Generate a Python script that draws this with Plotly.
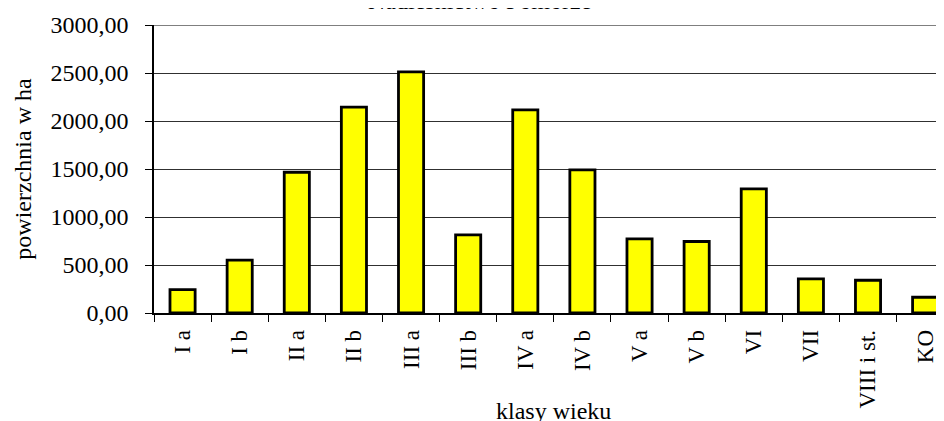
import plotly.graph_objects as go

categories = ["I a", "I b", "II a", "II b", "III a", "III b", "IV a", "IV b",
              "V a", "V b", "VI", "VII", "VIII i st.", "KO"]
values = [244, 550, 1466, 2144, 2512, 814, 2116, 1490, 772, 745, 1294, 355, 341, 164]
y_ticks = [0, 500, 1000, 1500, 2000, 2500, 3000]

title_text = "Nadleśnictwo Pomorze"
x_title = "klasy wieku"
y_title = "powierzchnia w ha"

FONT = "Liberation Serif"
# the page body adds an 8px offset, so the figure is 8px smaller on each axis
W, H = 936, 413
ML, MT, MB = 146, 17, 108
plot_h = H - MT - MB
plot_bottom = H - MB

fig = go.Figure()
fig.add_trace(go.Bar(
    x=categories, y=values,
    width=0.44,
    marker=dict(color="#FFFF00", line=dict(color="#000000", width=2.8)),
    hoverinfo="x+y",
))

fig.update_layout(
    width=W, height=H,
    margin=dict(l=ML, r=0, t=MT, b=MB, pad=0),
    paper_bgcolor="white", plot_bgcolor="white",
    separators=", ",
    showlegend=False,
    font=dict(family=FONT, size=24, color="#000000"),
    bargap=0.56,
)

fig.update_xaxes(
    type="category",
    range=[-0.5, 13.33],
    showgrid=False,
    showline=True, linecolor="#000000", linewidth=1.5,
    ticks="outside", ticklen=7, tickcolor="#000000", tickwidth=1,
    tickson="boundaries",
    tickangle=-90,
    tickfont=dict(family=FONT, size=23),
    ticklabelstandoff=6,
    automargin=False,
)

fig.update_yaxes(
    range=[0, 3000],
    tickvals=y_ticks,
    tickformat=".2f",
    showgrid=True, gridcolor="#303030", gridwidth=1,
    showline=True, linecolor="#000000", linewidth=1.5,
    ticks="outside", ticklen=7, tickcolor="#000000", tickwidth=1,
    tickfont=dict(family=FONT, size=24),
    ticklabelstandoff=12,
    zeroline=False,
    title=dict(text=y_title, font=dict(family=FONT, size=24), standoff=12),
    automargin=False,
)

# top border line of the plot area at the axis maximum
fig.add_shape(
    type="line", xref="paper", yref="y",
    x0=0, x1=1, y0=y_ticks[-1], y1=y_ticks[-1],
    line=dict(color="#7f7f7f", width=2),
)

# x-axis title (placed under the plot centre, between tick labels)
fig.add_annotation(
    text=x_title, xref="x", yref="paper",
    x=6.5, y=(plot_bottom - 388) / plot_h, yanchor="top", xanchor="center",
    showarrow=False, font=dict(family=FONT, size=24),
)

# chart title, mostly cut off at the top edge
fig.add_annotation(
    text=title_text, xref="paper", yref="paper",
    x=(471 - ML) / (W - ML), y=(plot_bottom - 8) / plot_h, yanchor="bottom", xanchor="center",
    showarrow=False, font=dict(family=FONT, size=24),
)

fig.write_html("out.html")
